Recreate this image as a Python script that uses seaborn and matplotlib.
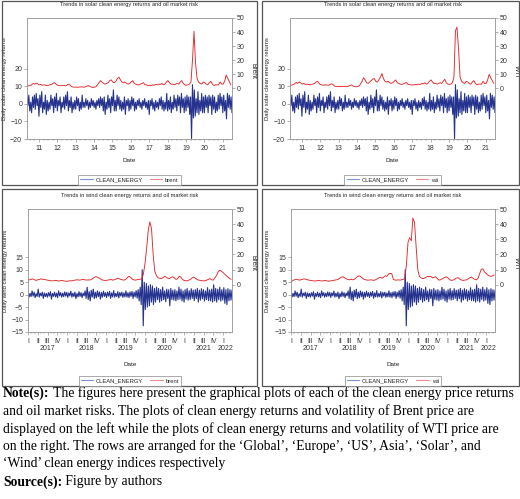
import numpy as np
import matplotlib
matplotlib.use("Agg")
import matplotlib.pyplot as plt
from matplotlib.lines import Line2D
from matplotlib.patches import Rectangle
import matplotlib.transforms as mtransforms
import seaborn as sns

# ---- values ----
# top row: solar index, x axis runs mid-2010 .. mid-2021
solar_start, solar_end = 2010.35, 2021.5
# bottom row: wind index, x axis runs 2017Q1 .. early 2022
wind_start, wind_end = 2017.0, 2022.23

# daily solar clean energy returns (envelope of the noisy band, alternating)
solar_returns = [
    3, -1, 5, -4, 1, -5, 4, -2, 5, -3, 6, -1, 3,
    -7, 5, -2, 7, -5, 1, -3, 5, -6, 2,
    -4, 1, -3, 5, -1, 3, -5, 4, -2, 6,
    -4, 2, -1, 4, -5, 1, -2, 4, -3, 5,
    -1, 7, -4, 2, -2, 4, -5, 1, -3, 2,
    -3, 4, -1, 3, -4, 1, -3, 5, -2, 1,
    -2, 3, -1, 2, -3, 1, -2, 3, -1, 2,
    -2, 1, -3, 2, -1, 3, -2, 4, -1, 3,
    -4, 4, -6, 1, -3, 5, -2, 3, -5, 4,
    -1, 8, -4, 2, -4, 5, -1, 4, -3, 2,
    -4, 1, -3, 4, -6, 2, -1, 3, -4, 2,
    -3, 4, -1, 3, -4, 1, -3, 2, -1, 3,
    -2, 1, -3, 2, -1, 3, -2, 1, -3, 2,
    -6, 2, -1, 3, -3, 1, -4, 2, -2, 1,
    -3, 3, -1, 4, -3, 2, -4, 1, -3, 6,
    -4, 2, -3, 4, -5, 1, -3, 5, -2, 3,
    -4, 5, -1, 4, -5, 6, -2, 3, -5, 4,
    -4, 5, -2, 4, -6, 4,
    -19.8, 11, -8,
    8, -7, 3, -5, 7, -6, 2, -4, 6, -5, 4, -5,
    5, -2, 4, -5, 5, -1, 4, -6, 5, -3,
    4, -5, 1, -4, 5, -3, 6, -1, 4, -5,
    5, -4, 2, -8.5, 6, -2, 5, -3, 4, -5,
]

# daily wind clean energy returns
wind_returns = [
    0.8, -1, 0.5, -0.8, 1.5, -0.6, 1, -1.2, 0.4, -0.7, 2.2, -1, 0.6, -0.5, 1, -1.5, 0.7, -0.8, 0.5,
    -1, 0.8, -0.6, 1.2, -1.8, 0.5, -0.7, 1, -0.9, 0.6, -1.2, 1.5, -0.5, 0.8, -1, 0.6, -0.8, 1.1, -0.6,
    0.9, -1.1, 0.7, -0.5, 1.4, -1, 0.6, -0.8, 1, -1.6, 0.5, -0.9, 1.2, -0.7, 0.8, -1.2, 0.6, -0.5, 1.5,
    -1.5, 3, -2, 1.2, -2.5, 1.8, -1, 2.2, -1.6, 1, -1.3, 1.5, -0.8, 1.1, -1.8, 0.9, -1, 1.4, -0.7,
    0.8, -1.2, 1, -0.6, 1.3, -1.5, 0.7, -0.9, 1.6, -1, 0.5, -0.8, 1.2, -1.3, 0.9, -0.6, 1, -1.1, 0.7,
    -0.9, 1.5, -1, 0.8, -1.2, 1.1, -0.7, 1.3, -1.5, 1, -0.9, 1.6, -1.4, 2,
    -2.5, 3, -4, 10, -12.5, 5,
    -6, 4.5, -5, 3.5, -4.5, 4, -3, 3.5, -4, 2.5, -3, 3,
    -2, 2.5, -3, 2, -2.5, 3, -2, 1.5, -2.8, 2.2, -1.5, 2, -4.5, 2.5, -2, 1.8, -2.2,
    2, -2.5, 1.5, -2, 3, -1.8, 2.2, -2.5, 1.5, -3, 2, -1.8, 2.5, -2.2, 1.6, -2, 2.4, -1.5, 1.8,
    -2.4, 2, -1.6, 2.5, -3, 1.8, -2.2, 2.4, -1.7, 2, -2.6, 1.5, -2, 2.8, -2.4, 1.9, -2.5, 2.2, -3,
    4, -2.5, 2.5, -3, 2.2, -2, 3, -2.6, 2, -2.2, 2.8, -3.5, 2, -4, 2.4, -2.5, 2, -2.2, 1.8,
]

# oil market risk (volatility), monthly for the solar period
brent_solar = [
    1.5, 1.8, 2.0, 2.5, 3.5, 3.0, 3.8, 3.2, 2.5, 2.8, 2.2, 2.5, 2.3,
    2.0, 2.2, 2.5, 2.8, 3.5, 4.0, 3.0, 2.2, 2.0, 1.8, 2.2, 2.0, 1.8,
    2.2, 3.0, 2.5, 1.2, 1.0, 0.8, 0.9, 0.8, 0.9, 1.0, 1.1, 0.8, 1.0,
    1.5, 2.0, 1.4, 0.9, 0.7, 0.8, 1.2, 2.5, 4.0, 5.5, 4.5, 3.5,
    3.0, 3.5, 4.0, 5.5, 6.0, 4.5, 4.0, 5.0, 7.0, 8.0, 6.0, 4.5, 4.0, 4.5,
    3.5, 3.0, 3.5, 4.5, 5.5, 3.5, 3.0, 2.5, 2.5, 3.0, 3.5, 4.0, 2.5,
    2.5, 2.0, 2.2, 2.0, 2.5, 2.2, 2.8, 2.5, 3.0, 2.8, 3.5, 2.5,
    3.0, 4.5, 5.5, 4.0, 3.0, 3.0, 2.5, 3.0, 3.5, 3.0, 4.5, 5.5, 3.5,
    2.5, 2.2, 2.5, 3.0, 4.5, 20.0, 40.5, 18.0, 7.0,
    4.5, 3.5, 3.0, 4.5, 4.0, 3.0, 2.5, 4.0, 5.0, 3.0, 2.0, 2.5,
    2.5, 2.5, 4.5, 3.0, 3.0, 5.0, 9.5, 7.0, 5.0, 2.5,
]
wti_solar = [
    2.0, 2.3, 2.6, 3.2, 4.2, 3.5, 4.5, 3.8, 3.0, 3.5, 2.8, 3.0, 2.8,
    2.5, 2.8, 3.0, 3.5, 4.5, 5.0, 3.5, 2.6, 2.4, 2.2, 2.6, 2.4, 2.2,
    2.6, 3.2, 2.8, 1.6, 1.4, 1.2, 1.3, 1.2, 1.3, 1.4, 1.5, 1.2, 1.4,
    2.0, 2.4, 1.8, 1.3, 1.1, 1.2, 1.6, 3.0, 5.0, 7.5, 6.0, 4.0,
    3.5, 4.5, 5.5, 6.5, 7.0, 5.0, 4.5, 6.0, 8.0, 10.5, 7.0, 5.0, 4.5, 5.0,
    4.0, 3.5, 4.0, 5.0, 6.0, 4.0, 3.5, 3.0, 2.8, 3.2, 3.8, 4.2, 2.8,
    2.8, 2.4, 2.5, 2.4, 2.8, 2.5, 3.0, 2.8, 3.5, 3.2, 4.0, 3.0,
    3.5, 5.0, 6.0, 4.5, 3.5, 3.5, 3.0, 3.5, 4.0, 3.5, 5.0, 6.5, 4.0,
    3.0, 2.8, 3.0, 4.0, 8.0, 41.0, 43.5, 28.0, 8.0,
    5.0, 4.0, 3.5, 5.0, 4.5, 3.5, 3.0, 4.5, 5.5, 3.5, 2.5, 3.0,
    3.0, 3.0, 5.0, 3.5, 3.5, 6.0, 10.0, 7.5, 5.5, 3.5,
]

# oil market risk, half-monthly for the wind period
brent_wind = [
    3.0, 3.2, 3.5, 3.8, 3.2, 2.8, 3.2, 3.5, 3.8, 3.6, 3.4, 3.2,
    3.0, 2.8, 2.6, 2.5, 2.6, 2.8, 2.6, 2.4, 2.6, 2.8, 2.5, 2.3,
    2.2, 2.4, 2.6, 2.5, 2.8, 3.0, 3.2, 3.1, 3.0, 3.3, 3.5, 3.2,
    3.0, 3.2, 3.0, 3.5, 4.2, 5.0, 5.2, 4.8, 4.2, 3.5, 3.0, 2.8,
    2.8, 3.0, 3.2, 3.4, 3.0, 3.2, 3.6, 4.2, 4.0, 3.5, 3.2, 3.0,
    3.4, 4.5, 5.5, 5.0, 3.8, 3.2, 3.0, 3.2, 3.5, 3.6, 3.8, 7.0,
    14.0, 24.0, 36.0, 41.5, 37.0, 20.0, 9.0, 6.0, 4.5, 4.2, 4.0, 4.5,
    5.5, 5.0, 4.2, 4.0, 4.8, 5.2, 4.5, 3.5, 3.8, 5.5, 5.0, 3.5,
    2.8, 2.6, 2.5, 3.0, 3.5, 4.5, 5.0, 4.2, 3.5, 3.0, 2.8, 2.6,
    2.5, 2.6, 3.0, 3.5, 4.0, 3.2, 3.0, 4.5, 6.0, 8.5, 9.5, 9.0,
    8.0, 7.0, 6.0, 5.0, 4.0, 3.5,
]
wti_wind = [
    2.0, 2.5, 3.2, 3.6, 3.4, 3.0, 3.2, 3.5, 3.8, 3.6, 3.3, 3.0,
    2.8, 2.6, 2.5, 2.4, 2.6, 2.8, 2.6, 2.4, 2.6, 2.8, 2.5, 2.3,
    2.4, 2.6, 2.8, 3.0, 3.2, 3.5, 4.2, 5.0, 5.2, 4.5, 3.8, 3.4,
    3.2, 3.5, 3.2, 3.6, 4.5, 5.5, 5.8, 5.2, 4.2, 3.5, 3.2, 3.0,
    3.0, 3.2, 3.0, 2.8, 3.2, 3.8, 4.5, 4.8, 4.2, 5.0, 5.8, 5.5,
    7.0, 7.5, 7.2, 3.5, 3.0, 3.0, 3.2, 3.0, 3.2, 3.5, 4.0, 13.0,
    28.0, 31.0, 29.0, 44.0, 41.0, 25.0, 10.0, 5.5, 4.5, 4.0, 4.2, 4.8,
    5.5, 5.2, 5.5, 4.5, 4.8, 5.2, 4.0, 3.0, 3.2, 3.8, 4.5, 5.0,
    5.0, 4.0, 3.0, 2.8, 3.2, 3.8, 4.5, 4.5, 3.5, 3.0, 2.8, 3.0,
    3.2, 3.8, 4.5, 5.0, 4.2, 3.5, 3.2, 4.0, 7.0, 10.0, 10.5, 8.5,
    7.5, 6.5, 5.8, 5.5, 5.8, 6.5,
]

solar_years = list(range(2011, 2022))
solar_year_labels = ["11", "12", "13", "14", "15", "16", "17", "18", "19", "20", "21"]
quarter_labels = ["I", "II", "III", "IV"]
wind_years = [2017, 2018, 2019, 2020, 2021, 2022]
wind_year_labels = ["2017", "2018", "2019", "2020", "2021", "2022"]

BLUE = "#25338f"
RED = "#e3272b"
W, H = 520, 499


def px_box(left, top, right, bottom):
    return [left / W, 1 - bottom / H, (right - left) / W, (bottom - top) / H]


sns.set_style("ticks")
plt.rcParams["font.family"] = ["Liberation Sans", "DejaVu Sans"]
serif = ["Liberation Serif", "DejaVu Serif"]

fig = plt.figure(figsize=(5.2, 4.99), dpi=100)

panels = [
    dict(frame=(1.5, 0.5, 257, 184.5), box=(27, 18, 232, 139), row="solar",
         oil=brent_solar, oil_name="Brent", leg="brent"),
    dict(frame=(262, 0.5, 518.5, 184.5), box=(290, 18, 495, 139), row="solar",
         oil=wti_solar, oil_name="WTI", leg="wti"),
    dict(frame=(1.5, 189, 257, 386), box=(28, 209, 232, 332), row="wind",
         oil=brent_wind, oil_name="Brent", leg="brent"),
    dict(frame=(262, 189, 518.5, 386), box=(291, 209, 495, 332), row="wind",
         oil=wti_wind, oil_name="WTI", leg="wti"),
]

for p in panels:
    l, t, r, b = p["frame"]
    fig.patches.append(Rectangle((l / W, 1 - b / H), (r - l) / W, (b - t) / H,
                                 transform=fig.transFigure, fill=False,
                                 edgecolor="#555555", lw=0.9))

    ax = fig.add_axes(px_box(*p["box"]))
    ax2 = ax.twinx()
    if p["row"] == "solar":
        ret, start, end = solar_returns, solar_start, solar_end
        t_oil = solar_start + np.arange(len(p["oil"])) / 12
        title = "Trends in solar clean energy returns and oil market risk"
        ylab = "Daily solar clean energy returns"
        ylim, yticks = (-20, 49), [-20, -10, 0, 10, 20]
        ylim2 = (-36, 50)
    else:
        ret, start, end = wind_returns, wind_start, wind_end
        t_oil = wind_start + np.arange(len(p["oil"])) / 24
        title = "Trends in wind clean energy returns and oil market risk"
        ylab = "Daily wind clean energy returns"
        ylim, yticks = (-15, 34.4), [-15, -10, -5, 0, 5, 10, 15]
        ylim2 = (-31.3, 50)
    t_ret = np.linspace(start, end, len(ret))

    sns.lineplot(x=t_ret, y=ret, ax=ax, color=BLUE, lw=0.8, legend=False)
    sns.lineplot(x=t_oil, y=p["oil"], ax=ax2, color=RED, lw=0.65, legend=False)

    ax.set_xlim(start, end)
    ax.set_ylim(*ylim)
    ax.set_yticks(yticks)
    ax.set_yticklabels([f"{v:g}".replace("-", "\u2212") for v in yticks])
    ax2.set_ylim(*ylim2)
    ax2.set_yticks([0, 10, 20, 30, 40, 50])

    if p["row"] == "solar":
        ax.set_xticks(solar_years)
        ax.set_xticklabels(solar_year_labels)
        ax.set_xticks(np.arange(2010.5, 2021.5, 0.25), minor=True)
        date_y = -(161 - 139) / 121
    else:
        q = np.arange(2017.0, 2022.01, 0.25)
        ax.set_xticks(q)
        ax.set_xticklabels([quarter_labels[i % 4] for i in range(len(q))])
        ax.set_xticks(np.arange(2017.0, 2022.2, 1 / 12), minor=True)
        trans = mtransforms.blended_transform_factory(ax.transData, ax.transAxes)
        for yr, lab in zip(wind_years, wind_year_labels):
            xc = yr + 0.5 if yr < 2022 else yr + 0.06
            ax.text(xc, -(349 - 332) / 123, lab, transform=trans, ha="center",
                    va="center", fontsize=5, color="#333333")
        date_y = -(364 - 332) / 123

    for a in (ax, ax2):
        for s in a.spines.values():
            s.set_color("#9a9a9a")
            s.set_linewidth(0.5)
        a.tick_params(which="major", length=2, width=0.4, color="#777777",
                      labelsize=5, labelcolor="#333333", pad=1.5)
        a.tick_params(which="minor", length=1.2, width=0.3, color="#777777")
    ax.tick_params(axis="x", which="major", pad=2.5)

    ax.set_title(title, fontsize=4.1, color="#222222", pad=0,
                 y=1 + (18 - 4.5) / (p["box"][3] - p["box"][1]), va="center")
    ax.set_ylabel(ylab, fontsize=4.2, color="#222222", va="center")
    ax.yaxis.set_label_coords(-23 / (p["box"][2] - p["box"][0]), 0.5)
    ax2.set_ylabel(p["oil_name"], fontsize=4.8, color="#222222", rotation=270, va="center")
    ax2.yaxis.set_label_coords(1 + 21 / (p["box"][2] - p["box"][0]), 0.56)
    ax.set_xlabel("Date", fontsize=4.6, color="#222222", va="center")
    ax.xaxis.set_label_coords(0.5, date_y)

    handles = [Line2D([], [], color="#7f8fd6", lw=0.8), Line2D([], [], color="#ef8a8c", lw=0.8)]
    cx = (p["box"][0] + p["box"][2]) / 2
    cy = 180 if p["row"] == "solar" else 381
    leg = fig.legend(handles, ["CLEAN_ENERGY", p["leg"]], loc="center",
                     bbox_to_anchor=(cx / W, 1 - cy / H), ncol=2, fontsize=4.2,
                     frameon=True, fancybox=False, edgecolor="#888888", framealpha=1,
                     handlelength=2.1, handletextpad=0.5, columnspacing=1.2,
                     borderpad=0.35)
    leg.get_frame().set_linewidth(0.5)

# caption below the panels
caption = [
    ("Note(s):", " The figures here present the graphical plots of each of the clean energy price returns"),
    ("", "and oil market risks. The plots of clean energy returns and volatility of Brent price are"),
    ("", "displayed on the left while the plots of clean energy returns and volatility of WTI price are"),
    ("", "on the right. The rows are arranged for the \u2018Global\u2019, \u2018Europe\u2019, \u2018US\u2019, Asia\u2019, \u2018Solar\u2019, and"),
    ("", "\u2018Wind\u2019 clean energy indices respectively"),
    ("Source(s):", " Figure by authors"),
]
line_y = [393, 411, 429, 446, 464, 482]
renderer = fig.canvas.get_renderer()
for (bold, rest), yy in zip(caption, line_y):
    x = 3 / W
    if bold:
        tb = fig.text(x, 1 - yy / H, bold, family=serif, fontweight="bold",
                      fontsize=9.8, va="center", color="black")
        x = tb.get_window_extent(renderer).x1 / (fig.dpi * fig.get_figwidth())
    fig.text(x, 1 - yy / H, rest, family=serif, fontsize=9.8, va="center", color="black")

fig.savefig("out.png", dpi=100)
